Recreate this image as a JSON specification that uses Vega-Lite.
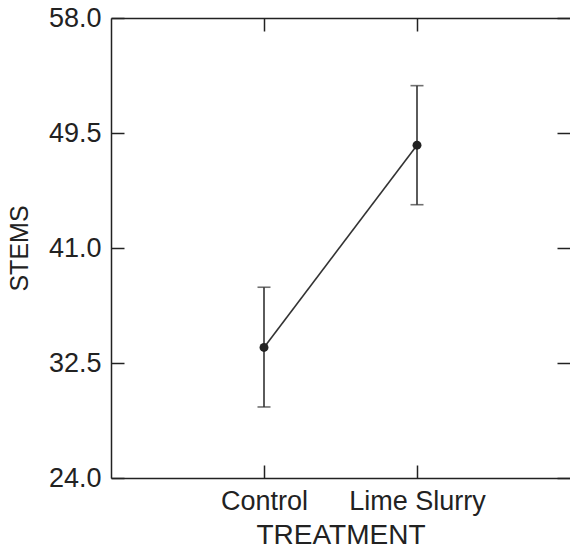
{
  "$schema": "https://vega.github.io/schema/vega-lite/v6.json",
  "autosize": "none",
  "padding": {"left": 111, "top": 18, "right": 0, "bottom": 71},
  "width": 459,
  "height": 460,
  "background": "white",
  "config": {
    "view": {"stroke": null},
    "font": "Liberation Sans",
    "axis": {
      "domainColor": "#222", "domainWidth": 1.5,
      "tickColor": "#222", "tickWidth": 1.5, "tickSize": -13,
      "labelColor": "#222", "labelFont": "Liberation Sans", "labelFontSize": 27,
      "titleColor": "#222", "titleFont": "Liberation Sans", "titleFontSize": 25, "titleFontWeight": "normal",
      "grid": false
    }
  },
  "data": {
    "values": [
      {"TREATMENT": "Control", "STEMS": 33.65, "lo": 29.25, "hi": 38.1},
      {"TREATMENT": "Lime Slurry", "STEMS": 48.6, "lo": 44.2, "hi": 53.0}
    ]
  },
  "layer": [
    {
      "mark": {"type": "line", "color": "#333", "strokeWidth": 1.6},
      "encoding": {
        "x": {"field": "TREATMENT", "type": "nominal", "scale": {"type": "point", "padding": 1},
              "axis": {"orient": "bottom", "labelAngle": 0, "labelPadding": 23, "title": "TREATMENT", "titleFontSize": 28, "titlePadding": 7}},
        "y": {"field": "STEMS", "type": "quantitative", "scale": {"domain": [24, 58], "nice": false, "zero": false},
              "axis": {"orient": "left", "values": [24, 32.5, 41, 49.5, 58], "format": ".1f", "labelPadding": 23, "title": "STEMS", "titlePadding": 16}}
      }
    },
    {
      "mark": {"type": "rule", "color": "#333", "strokeWidth": 1.6},
      "encoding": {
        "x": {"field": "TREATMENT", "type": "nominal",
              "axis": {"orient": "top", "labels": false, "title": null, "domain": true}},
        "y": {"field": "lo", "type": "quantitative",
              "axis": {"orient": "right", "values": [24, 32.5, 41, 49.5, 58], "labels": false, "title": null, "domain": false}},
        "y2": {"field": "hi"}
      }
    },
    {
      "mark": {"type": "tick", "color": "#333", "thickness": 1.6, "size": 13, "orient": "horizontal"},
      "encoding": {
        "x": {"field": "TREATMENT", "type": "nominal", "axis": null},
        "y": {"field": "hi", "type": "quantitative", "axis": null}
      }
    },
    {
      "mark": {"type": "tick", "color": "#333", "thickness": 1.6, "size": 13, "orient": "horizontal"},
      "encoding": {
        "x": {"field": "TREATMENT", "type": "nominal", "axis": null},
        "y": {"field": "lo", "type": "quantitative", "axis": null}
      }
    },
    {
      "mark": {"type": "point", "filled": true, "size": 80, "color": "#222", "opacity": 1},
      "encoding": {
        "x": {"field": "TREATMENT", "type": "nominal", "axis": null},
        "y": {"field": "STEMS", "type": "quantitative", "axis": null}
      }
    }
  ]
}
